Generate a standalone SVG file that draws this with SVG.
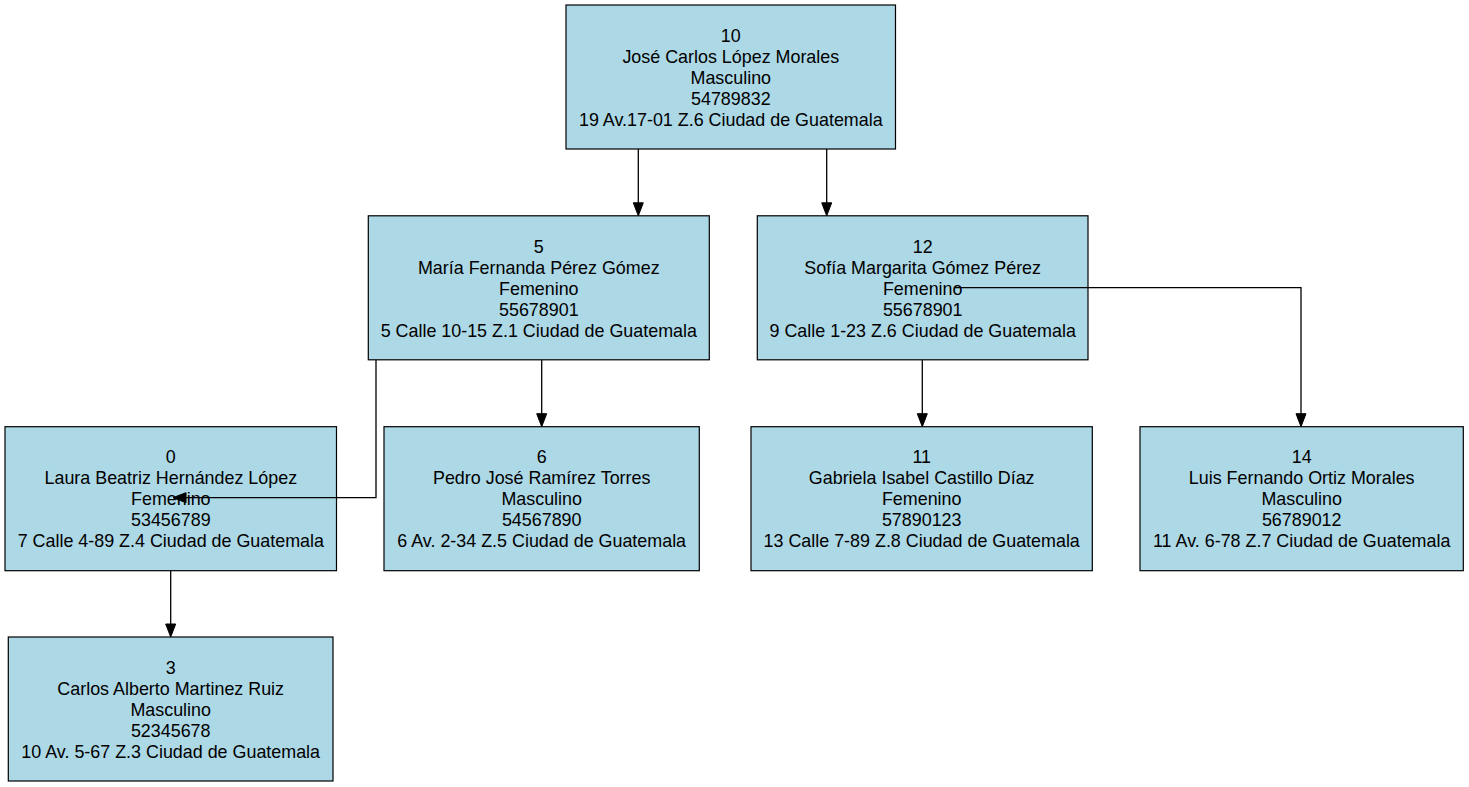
<svg xmlns="http://www.w3.org/2000/svg" width="1469" height="787" viewBox="0 0 1469 787">
<style>
.n rect{fill:#add8e6;stroke:#000;stroke-width:1.2}
.n text{font-family:"Liberation Sans",Arial,sans-serif;font-size:17.9px;fill:#000;text-anchor:middle}
.e path{fill:none;stroke:#000;stroke-width:1.3}
.e polygon{fill:#000;stroke:#000;stroke-width:1}
</style>
<rect x="0" y="0" width="1469" height="787" fill="#ffffff"/>
<g id="node10" class="n">
<rect x="566" y="5" width="329.5" height="144"/>
<text x="730.8" y="41.7">10</text>
<text x="730.8" y="62.7">José Carlos López Morales</text>
<text x="730.8" y="83.7">Masculino</text>
<text x="730.8" y="104.7">54789832</text>
<text x="730.8" y="125.7">19 Av.17-01 Z.6 Ciudad de Guatemala</text>
</g>
<g id="node5" class="n">
<rect x="368.3" y="215.8" width="341" height="144"/>
<text x="538.8" y="252.5">5</text>
<text x="538.8" y="273.5">María Fernanda Pérez Gómez</text>
<text x="538.8" y="294.5">Femenino</text>
<text x="538.8" y="315.5">55678901</text>
<text x="538.8" y="336.5">5 Calle 10-15 Z.1 Ciudad de Guatemala</text>
</g>
<g id="node12" class="n">
<rect x="757.3" y="215.8" width="330.7" height="144"/>
<text x="922.7" y="252.5">12</text>
<text x="922.7" y="273.5">Sofía Margarita Gómez Pérez</text>
<text x="922.7" y="294.5">Femenino</text>
<text x="922.7" y="315.5">55678901</text>
<text x="922.7" y="336.5">9 Calle 1-23 Z.6 Ciudad de Guatemala</text>
</g>
<g id="node0" class="n">
<rect x="5" y="426.7" width="331.5" height="144"/>
<text x="170.8" y="463.4">0</text>
<text x="170.8" y="484.4">Laura Beatriz Hernández López</text>
<text x="170.8" y="505.4">Femenino</text>
<text x="170.8" y="526.4">53456789</text>
<text x="170.8" y="547.4">7 Calle 4-89 Z.4 Ciudad de Guatemala</text>
</g>
<g id="node6" class="n">
<rect x="384" y="426.7" width="315.3" height="144"/>
<text x="541.7" y="463.4">6</text>
<text x="541.7" y="484.4">Pedro José Ramírez Torres</text>
<text x="541.7" y="505.4">Masculino</text>
<text x="541.7" y="526.4">54567890</text>
<text x="541.7" y="547.4">6 Av. 2-34 Z.5 Ciudad de Guatemala</text>
</g>
<g id="node11" class="n">
<rect x="751" y="426.7" width="341.3" height="144"/>
<text x="921.7" y="463.4">11</text>
<text x="921.7" y="484.4">Gabriela Isabel Castillo Díaz</text>
<text x="921.7" y="505.4">Femenino</text>
<text x="921.7" y="526.4">57890123</text>
<text x="921.7" y="547.4">13 Calle 7-89 Z.8 Ciudad de Guatemala</text>
</g>
<g id="node14" class="n">
<rect x="1140" y="426.7" width="323.3" height="144"/>
<text x="1301.7" y="463.4">14</text>
<text x="1301.7" y="484.4">Luis Fernando Ortiz Morales</text>
<text x="1301.7" y="505.4">Masculino</text>
<text x="1301.7" y="526.4">56789012</text>
<text x="1301.7" y="547.4">11 Av. 6-78 Z.7 Ciudad de Guatemala</text>
</g>
<g id="node3" class="n">
<rect x="8.3" y="637" width="324.7" height="144"/>
<text x="170.7" y="673.7">3</text>
<text x="170.7" y="694.7">Carlos Alberto Martinez Ruiz</text>
<text x="170.7" y="715.7">Masculino</text>
<text x="170.7" y="736.7">52345678</text>
<text x="170.7" y="757.7">10 Av. 5-67 Z.3 Ciudad de Guatemala</text>
</g>
<g id="edges" class="e">
<path d="M638.3,149 V203"/>
<polygon points="638.3,215.8 633.3,202.8 643.3,202.8"/>
<path d="M826.7,149 V203"/>
<polygon points="826.7,215.8 821.7,202.8 831.7,202.8"/>
<path d="M541.7,360 V414"/>
<polygon points="541.7,426.7 536.7,413.7 546.7,413.7"/>
<path d="M376,360 V497.7 H186"/>
<polygon points="173,497.7 186,492.7 186,502.7"/>
<path d="M922.3,360 V414"/>
<polygon points="922.3,426.7 917.3,413.7 927.3,413.7"/>
<path d="M955,287.7 H1301 V414"/>
<polygon points="1301,426.7 1296,413.7 1306,413.7"/>
<path d="M170.7,570.7 V624"/>
<polygon points="170.7,637 165.7,624 175.7,624"/>
</g>
</svg>
